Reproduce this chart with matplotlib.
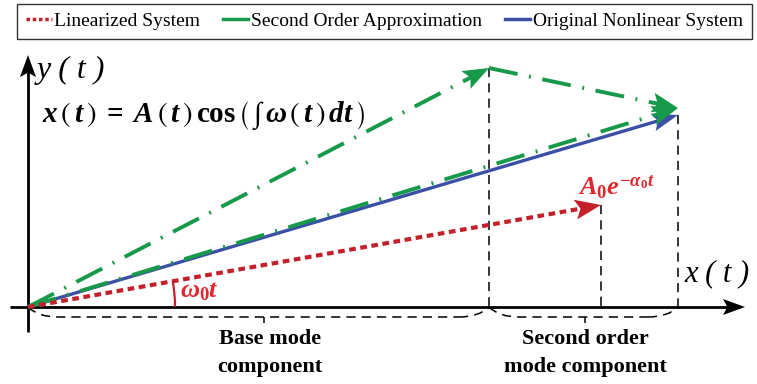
import numpy as np
import matplotlib.pyplot as plt
from matplotlib.patches import Polygon, Arc, PathPatch
from matplotlib.path import Path
from matplotlib.lines import Line2D

plt.rcParams['font.family'] = ['Liberation Serif', 'DejaVu Serif']
plt.rcParams['mathtext.fontset'] = 'custom'
plt.rcParams['mathtext.rm'] = 'Liberation Serif:bold'
plt.rcParams['mathtext.it'] = 'Liberation Serif:italic:bold'
plt.rcParams['mathtext.bf'] = 'Liberation Serif:bold'
plt.rcParams['mathtext.fallback'] = 'stix'

# phasor geometry (pixel space, y grows downward)
origin = (28, 307)
linear_tip = (601, 205)
second_mid = (489, 68)
second_tip = (678, 108)
original_tip = (678, 115)
x_axis = (10, 745)
y_axis = (332, 55)

labels = ['Linearized System', 'Second Order Approximation', 'Original Nonlinear System']
red, green, blue = '#c3202b', '#17994a', '#3c4fa6'
text_red = '#e3262e'

fig = plt.figure(figsize=(7.57, 3.84), dpi=100)
ax = fig.add_axes([0, 0, 1, 1])
ax.set_xlim(0, 757)
ax.set_ylim(384, 0)
ax.axis('off')


def arrow(p0, p1, color, lw, ls, head_len=24, head_w=18, z=3):
    p0 = np.array(p0, float)
    p1 = np.array(p1, float)
    d = (p1 - p0) / np.hypot(*(p1 - p0))
    n = np.array([-d[1], d[0]])
    base = p1 - d * head_len
    end = p1 - d * head_len * 0.6
    ax.plot([p0[0], end[0]], [p0[1], end[1]], color=color, lw=lw,
            dashes=ls if ls else (None, None), solid_capstyle='butt', zorder=z)
    head = [p1, base + n * head_w / 2, base + d * head_len * 0.2, base - n * head_w / 2]
    ax.add_patch(Polygon(head, closed=True, color=color, lw=0, zorder=z))


# axes of the phase plane
arrow((x_axis[0], origin[1]), (x_axis[1], origin[1]), 'black', 2.0, None, 22, 16, z=2)
arrow((origin[0], y_axis[0]), (origin[0], y_axis[1]), 'black', 2.0, None, 22, 16, z=2)

# projections onto the x axis
for px, py in [linear_tip, second_mid, original_tip]:
    ax.plot([px, px], [py, origin[1]], color='black', lw=1.1, dashes=(6, 4), zorder=1)

dashdot = (7.5, 3, 0.5, 3)
arrow(origin, linear_tip, red, 3.0, (1.6, 1.1), 26, 20, z=4)
arrow(origin, second_mid, green, 2.8, dashdot, 26, 20)
arrow(second_mid, second_tip, green, 2.8, dashdot, 26, 20)
arrow(origin, original_tip, blue, 2.4, None, 26, 18)
arrow(origin, second_tip, green, 2.8, dashdot, 26, 20, z=3)

# angle of the linearized phasor
ang = np.degrees(np.arctan2(origin[1] - linear_tip[1], linear_tip[0] - origin[0]))
ax.add_patch(Arc(origin, 294, 294, theta1=-ang, theta2=0, color=red, lw=1.6, zorder=4))


def brace(x0, x1, tip):
    y0, y1 = origin[1], origin[1] + 10
    verts = [(x0, y0), (x0 + 10, y1), (x0 + 30, y1), (x1 - 30, y1),
             (tip, y1), (tip, y1 + 6),
             (x1 - 30, y1), (x1 - 10, y1), (x1, y0)]
    codes = [Path.MOVETO, Path.CURVE3, Path.CURVE3, Path.LINETO,
             Path.MOVETO, Path.LINETO,
             Path.MOVETO, Path.CURVE3, Path.CURVE3]
    ax.add_patch(PathPatch(Path(verts, codes), fill=False, ec='black', lw=1.1,
                           ls=(0, (6, 4)), zorder=1))


brace(origin[0], second_mid[0], 264)
brace(second_mid[0], original_tip[0], 585)

bold = dict(fontsize=16, fontweight='bold', ha='center', va='center')
ax.text(270, 339, 'Base mode', **bold)
ax.text(270, 367, 'component', **bold)
ax.text(585, 339, 'Second order', **bold)
ax.text(585, 367, 'mode component', **bold)

ax.text(37, 70, 'y ( t )', fontsize=23, style='italic', va='center')
ax.text(684, 274, 'x ( t )', fontsize=22, style='italic', va='center')
ax.text(42, 116,
        r'$x\,\left(\,t\,\right)\;=\;A\,\left(\,t\,\right)\,\mathrm{cos}\,'
        r'\left(\,\int\,\omega\,\left(\,t\,\right)\,dt\,\right)$',
        fontsize=21, va='center')
ax.text(180, 292, r'$\omega_0 t$', fontsize=19, color=text_red, va='center')
ax.text(578, 195, r'$A_0e^{-\alpha_0 t}$', fontsize=19, color=text_red, va='baseline')

handles = [Line2D([], [], color=red, lw=2.5, dashes=(1, 0.8)),
           Line2D([], [], color=green, lw=2.5),
           Line2D([], [], color=blue, lw=2.5)]
fig.legend(handles, labels, loc='upper center', bbox_to_anchor=(0.508, 0.99), ncol=3,
           fontsize=14, frameon=True, fancybox=False, edgecolor='black',
           handlelength=1.3, handletextpad=0.12, columnspacing=1.2,
           borderpad=0.45, borderaxespad=0)

fig.savefig('out.png', dpi=100)
